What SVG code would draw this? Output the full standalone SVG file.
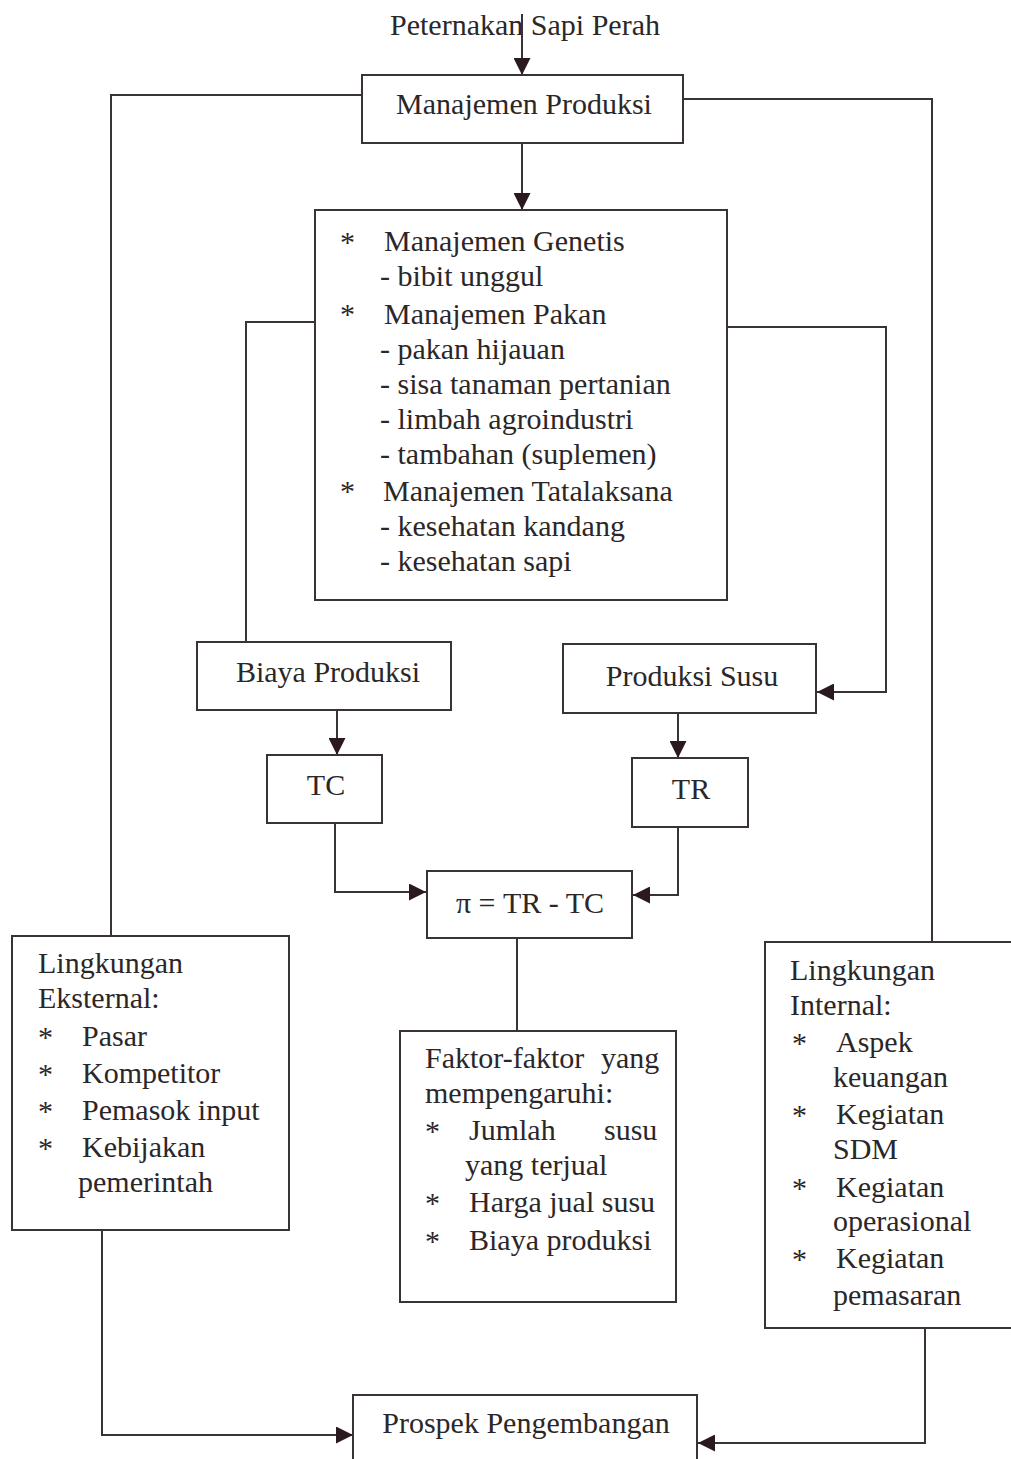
<svg xmlns="http://www.w3.org/2000/svg" width="1011" height="1459" viewBox="0 0 1011 1459">
<style>
.box{fill:none;stroke:#3a3336;stroke-width:2}
.con{fill:none;stroke:#3a3336;stroke-width:2}
text{font-family:"Liberation Serif","Times New Roman",serif;font-size:30px;fill:#2b2729}
.c{text-anchor:middle}
</style>
<defs>
<marker id="ah" viewBox="0 0 10 10" refX="10" refY="5" markerWidth="20" markerHeight="17" markerUnits="userSpaceOnUse" orient="auto">
<path d="M0,0 L10,5 L0,10 z" fill="#2a1a20"/>
</marker>
</defs>
<rect width="1011" height="1459" fill="#ffffff"/>
<text class="c" x="525" y="35">Peternakan Sapi Perah</text>
<g id="connectors">
<path class="con" d="M522,14 V75" marker-end="url(#ah)"/>
<path class="con" d="M522,143 V210" marker-end="url(#ah)"/>
<path class="con" d="M362,95 H111 V936"/>
<path class="con" d="M683,99 H932 V942"/>
<path class="con" d="M315,322 H246 V642"/>
<path class="con" d="M727,327 H886 V692 H817" marker-end="url(#ah)"/>
<path class="con" d="M337,710 V755" marker-end="url(#ah)"/>
<path class="con" d="M678,713 V758" marker-end="url(#ah)"/>
<path class="con" d="M335,823 V892 H426" marker-end="url(#ah)"/>
<path class="con" d="M678,827 V895 H633" marker-end="url(#ah)"/>
<path class="con" d="M517,938 V1031"/>
<path class="con" d="M102,1230 V1435 H353" marker-end="url(#ah)"/>
<path class="con" d="M925,1328 V1443 H698" marker-end="url(#ah)"/>
</g>
<g id="manajemen-produksi">
<rect class="box" x="362" y="75" width="321" height="68"/>
<text class="c" x="524" y="114">Manajemen Produksi</text>
</g>
<g id="manajemen-detail">
<rect class="box" x="315" y="210" width="412" height="390"/>
<text x="340" y="252">*</text><text x="384" y="251">Manajemen Genetis</text>
<text x="380" y="286">- bibit unggul</text>
<text x="340" y="324">*</text><text x="384" y="324">Manajemen Pakan</text>
<text x="380" y="359">- pakan hijauan</text>
<text x="380" y="394">- sisa tanaman pertanian</text>
<text x="380" y="429">- limbah agroindustri</text>
<text x="380" y="464">- tambahan (suplemen)</text>
<text x="340" y="501">*</text><text x="383" y="501">Manajemen Tatalaksana</text>
<text x="380" y="536">- kesehatan kandang</text>
<text x="380" y="571">- kesehatan sapi</text>
</g>
<g id="biaya-produksi">
<rect class="box" x="197" y="642" width="254" height="68"/>
<text class="c" x="328" y="682">Biaya Produksi</text>
</g>
<g id="produksi-susu">
<rect class="box" x="563" y="644" width="253" height="69"/>
<text class="c" x="692" y="686">Produksi Susu</text>
</g>
<g id="tc">
<rect class="box" x="267" y="755" width="115" height="68"/>
<text class="c" x="326" y="795">TC</text>
</g>
<g id="tr">
<rect class="box" x="632" y="758" width="116" height="69"/>
<text class="c" x="691" y="799">TR</text>
</g>
<g id="profit">
<rect class="box" x="427" y="871" width="205" height="67"/>
<text class="c" x="530" y="913">π = TR - TC</text>
</g>
<g id="faktor">
<rect class="box" x="400" y="1031" width="276" height="271"/>
<text x="425" y="1068">Faktor-faktor<tspan x="601">yang</tspan></text>
<text x="425" y="1103">mempengaruhi:</text>
<text x="425" y="1141">*</text><text x="469" y="1140">Jumlah<tspan x="604">susu</tspan></text>
<text x="465" y="1175">yang terjual</text>
<text x="425" y="1213">*</text><text x="469" y="1212">Harga jual susu</text>
<text x="425" y="1251">*</text><text x="469" y="1250">Biaya produksi</text>
</g>
<g id="lingkungan-eksternal">
<rect class="box" x="12" y="936" width="277" height="294"/>
<text x="38" y="973">Lingkungan</text>
<text x="38" y="1008">Eksternal:</text>
<text x="38" y="1047">*</text><text x="82" y="1046">Pasar</text>
<text x="38" y="1084">*</text><text x="82" y="1083">Kompetitor</text>
<text x="38" y="1121">*</text><text x="82" y="1120">Pemasok input</text>
<text x="38" y="1158">*</text><text x="82" y="1157">Kebijakan</text>
<text x="78" y="1192">pemerintah</text>
</g>
<g id="lingkungan-internal">
<rect class="box" x="765" y="942" width="260" height="386"/>
<text x="790" y="980">Lingkungan</text>
<text x="790" y="1015">Internal:</text>
<text x="792" y="1053">*</text><text x="836" y="1052">Aspek</text>
<text x="833" y="1087">keuangan</text>
<text x="792" y="1125">*</text><text x="836" y="1124">Kegiatan</text>
<text x="833" y="1159">SDM</text>
<text x="792" y="1198">*</text><text x="836" y="1197">Kegiatan</text>
<text x="833" y="1231">operasional</text>
<text x="792" y="1269">*</text><text x="836" y="1268">Kegiatan</text>
<text x="833" y="1305">pemasaran</text>
</g>
<g id="prospek">
<rect class="box" x="353" y="1395" width="344" height="70"/>
<text class="c" x="526" y="1433">Prospek Pengembangan</text>
</g>
</svg>
